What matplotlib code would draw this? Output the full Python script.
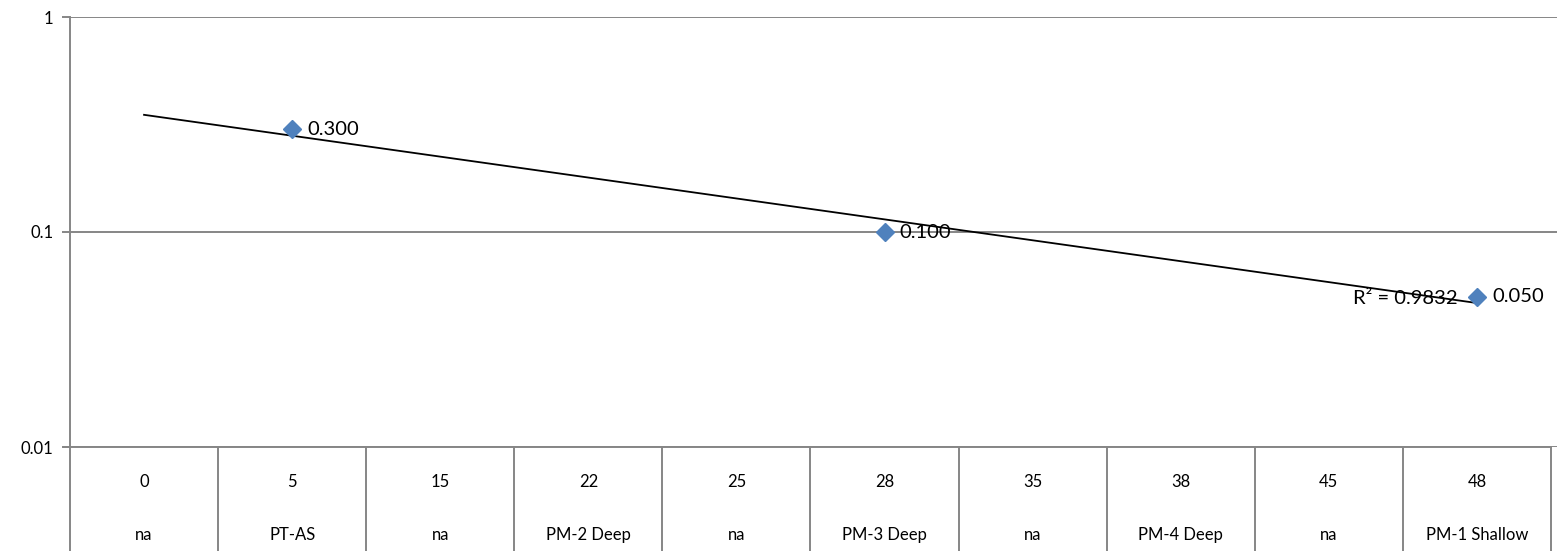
import numpy as np
import matplotlib
matplotlib.use("Agg")
import matplotlib.pyplot as plt
from matplotlib.transforms import blended_transform_factory

plt.rcParams['font.family'] = ['Lato', 'DejaVu Sans']

# Category axis: two label rows (distance / location)
distances = ["0", "5", "15", "22", "25", "28", "35", "38", "45", "48"]
locations = ["na", "PT-AS", "na", "PM-2 Deep", "na", "PM-3 Deep", "na",
             "PM-4 Deep", "na", "PM-1 Shallow"]
# Measured concentrations (only where sampled)
sample_idx = [1, 5, 9]
sample_vals = [0.300, 0.100, 0.050]

marker_color = "#4F81BD"
grid_color = "#868686"

fig = plt.figure(figsize=(15.57, 5.51), dpi=100)
W, H = 1557, 551
left_px, right_px, top_px, bot_px = 70, 1557, 17, 447
ax = fig.add_axes([left_px / W, 1 - bot_px / H,
                   (right_px - left_px) / W, (bot_px - top_px) / H])

n = len(distances)
cat_w = (1551 - 70) / n
ax.set_xlim(-0.5, -0.5 + (right_px - left_px) / cat_w)
ax.set_yscale("log")
ax.set_ylim(0.01, 1)

# Exponential trendline fitted on category positions
xs = np.array(sample_idx, dtype=float)
ys = np.array(sample_vals)
b, a = np.polyfit(xs, np.log(ys), 1)
pred = a + b * xs
r2 = 1 - np.sum((np.log(ys) - pred) ** 2) / np.sum((np.log(ys) - np.log(ys).mean()) ** 2)
xt = np.linspace(0, n - 1, 100)
ax.plot(xt, np.exp(a + b * xt), color="black", lw=1.3, zorder=3)

ax.plot(xs, ys, linestyle="none", marker="D", markersize=9,
        color=marker_color, markeredgecolor=marker_color, zorder=4)
for x, v in zip(xs, ys):
    ax.annotate(f"{v:.3f}", (x, v), xytext=(11, 0), textcoords="offset points",
                ha="left", va="center", fontsize=14.5, zorder=5)

ax.annotate(f"R² = {r2:.4f}", (n - 1, np.exp(a + b * (n - 1))),
            xytext=(-14, 3), textcoords="offset points",
            ha="right", va="center", fontsize=14.5, zorder=5)

# Gridlines and axes styling
ax.yaxis.grid(True, which="major", color=grid_color, lw=1.4)
ax.set_axisbelow(True)
for s in ["top", "right", "bottom"]:
    ax.spines[s].set_visible(False)
ax.spines["left"].set_color(grid_color)
ax.spines["left"].set_linewidth(1.4)
ax.set_yticks([0.01, 0.1, 1])
ax.set_yticklabels(["0.01", "0.1", "1"])
ax.yaxis.set_minor_locator(matplotlib.ticker.NullLocator())
ax.tick_params(axis="y", length=6, width=1.4, color=grid_color,
               labelsize=12, pad=6)
ax.set_xticks([])

# Category table below the plot
trans = blended_transform_factory(ax.transData, ax.transAxes)
row_h = (H - bot_px) / (bot_px - top_px)
xmin_axes = -6 / (right_px - left_px)
ax.plot([xmin_axes, (1551 - left_px) / (right_px - left_px)], [0, 0],
        transform=ax.transAxes, color=grid_color, lw=1.4, clip_on=False)
for k in range(n + 1):
    ax.plot([k - 0.5, k - 0.5], [0, -row_h], transform=trans,
            color=grid_color, lw=1.4, clip_on=False)
y1 = -(482 - bot_px) / (bot_px - top_px)
y2 = -(535 - bot_px) / (bot_px - top_px)
for i, (d, loc) in enumerate(zip(distances, locations)):
    ax.text(i, y1, d, transform=trans, ha="center", va="center", fontsize=12)
    ax.text(i, y2, loc, transform=trans, ha="center", va="center", fontsize=12)

fig.savefig("out.png", dpi=100)
